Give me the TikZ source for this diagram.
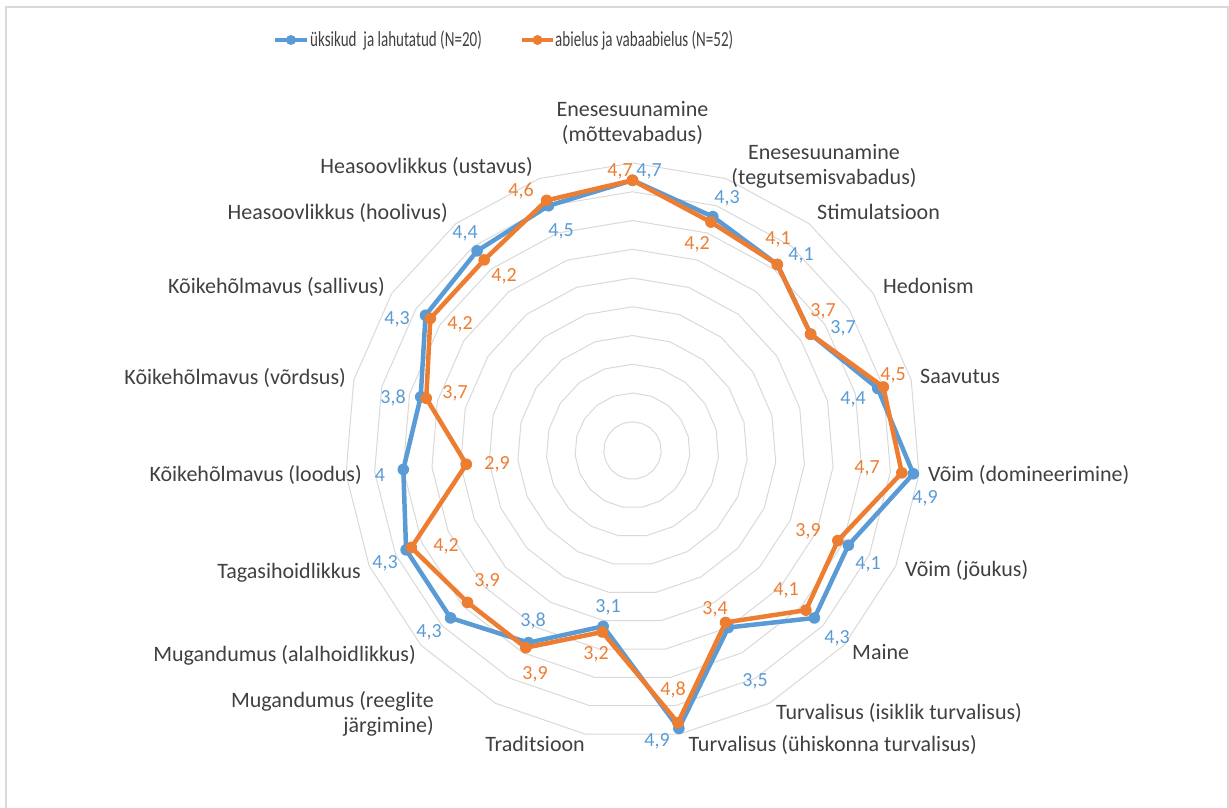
\documentclass[tikz,border=0pt]{standalone}
\usepackage{fontspec}
\usepackage{graphicx}
\setmainfont{Carlito}
\definecolor{sblue}{HTML}{5B9BD5}
\definecolor{sorange}{HTML}{ED7D31}
\definecolor{ringc}{HTML}{D9D9D9}
\definecolor{txt}{HTML}{404040}
\begin{document}
\begin{tikzpicture}[x=1pt,y=-1pt,
  ring/.style={draw=ringc, line width=1pt},
  frame/.style={draw=ringc, line width=2pt},
  bseries/.style={draw=sblue, line width=4.5pt, line join=round},
  oseries/.style={draw=sorange, line width=4.5pt, line join=round},
  bdot/.style={fill=sblue},
  odot/.style={fill=sorange},
  cat/.style={text=txt, font=\fontsize{22}{25}\selectfont, inner sep=0pt, text height=16pt, text depth=3pt},
  cattwo/.style={text=txt, font=\fontsize{22}{25}\selectfont, inner sep=0pt},
  blab/.style={text=sblue, font=\fontsize{20}{22}\selectfont, inner sep=0pt, text height=12.6pt, text depth=0pt},
  olab/.style={text=sorange, font=\fontsize{20}{22}\selectfont, inner sep=0pt, text height=12.6pt, text depth=0pt},
  leg/.style={text=txt, font=\fontsize{21.5}{24}\selectfont, inner sep=0pt, anchor=west}
]
\path[use as bounding box] (0,0) rectangle (1229,807);
\clip (0,0) rectangle (1229,807);
\def\cx{632.5}\def\cy{450.5}\def\sc{57.5}
% frame
\coordinate (f1) at (6,815); \coordinate (f2) at (6,7);
\coordinate (f3) at (1228,7); \coordinate (f4) at (1228,815);
\draw[frame] (f1) -- (f2) -- (f3) -- (f4);
% rings
\foreach \k in {1,...,10}{
  \draw[ring] ({\cx},{\cy-\k*28.75})
    \foreach \i in {1,...,18}{ -- ({\cx+\k*28.75*sin(\i*360/19)},{\cy-\k*28.75*cos(\i*360/19)}) } -- cycle;
}
% data points
\foreach \v [count=\i from 0] in {4.7,4.3,4.1,3.7,4.4,4.9,4.1,4.3,3.5,4.9,3.1,3.8,4.3,4.3,4,3.8,4.3,4.4,4.5}{
  \coordinate (b\i) at ({\cx+\sc*\v*sin(\i*360/19)},{\cy-\sc*\v*cos(\i*360/19)});
}
\foreach \v [count=\i from 0] in {4.7,4.2,4.1,3.7,4.5,4.7,3.9,4.1,3.4,4.8,3.2,3.9,3.9,4.2,2.9,3.7,4.2,4.2,4.6}{
  \coordinate (o\i) at ({\cx+\sc*\v*sin(\i*360/19)},{\cy-\sc*\v*cos(\i*360/19)});
}
\draw[bseries] (b0) \foreach \i in {1,...,18}{ -- (b\i) } -- cycle;
\foreach \i in {0,...,18}{ \fill[bdot] (b\i) circle[radius=5.8pt]; }
\draw[oseries] (o0) \foreach \i in {1,...,18}{ -- (o\i) } -- cycle;
\foreach \i in {0,...,18}{ \fill[odot] (o\i) circle[radius=5.8pt]; }
% blue labels
\node[blab] (bl0) at (649,170) {4,7};
\node[blab] (bl1) at (727,197) {4,3};
\node[blab] (bl2) at (801,254) {4,1};
\node[blab] (bl3) at (843,327) {3,7};
\node[blab] (bl4) at (853,398) {4,4};
\node[blab] (bl5) at (925,497) {4,9};
\node[blab] (bl6) at (868,563) {4,1};
\node[blab] (bl7) at (837,637) {4,3};
\node[blab] (bl8) at (755,680) {3,5};
\node[blab] (bl9) at (657,740) {4,9};
\node[blab] (bl10) at (608,606) {3,1};
\node[blab] (bl11) at (533,620) {3,8};
\node[blab] (bl12) at (429,631) {4,3};
\node[blab] (bl13) at (385,562) {4,3};
\node[blab] (bl14) at (380,475) {4};
\node[blab] (bl15) at (393,397) {3,8};
\node[blab] (bl16) at (397,318) {4,3};
\node[blab] (bl17) at (465,232) {4,4};
\node[blab] (bl18) at (561,230) {4,5};
% orange labels
\node[olab] (ol0) at (620,170) {4,7};
\node[olab] (ol1) at (697,243) {4,2};
\node[olab] (ol2) at (778,238) {4,1};
\node[olab] (ol3) at (823,310) {3,7};
\node[olab] (ol4) at (893,374) {4,5};
\node[olab] (ol5) at (867,467) {4,7};
\node[olab] (ol6) at (808,530) {3,9};
\node[olab] (ol7) at (786,589) {4,1};
\node[olab] (ol8) at (715,608) {3,4};
\node[olab] (ol9) at (673,689) {4,8};
\node[olab] (ol10) at (596,653) {3,2};
\node[olab] (ol11) at (535,673) {3,9};
\node[olab] (ol12) at (487,580) {3,9};
\node[olab] (ol13) at (446,545) {4,2};
\node[olab] (ol14) at (497,463) {2,9};
\node[olab] (ol15) at (455,392) {3,7};
\node[olab] (ol16) at (460,323) {4,2};
\node[olab] (ol17) at (504,275) {4,2};
\node[olab] (ol18) at (521,190) {4,6};
% category labels
\node[cattwo, align=center] (c0) at (632.5,122.5) {Enesesuunamine\\(mõttevabadus)};
\node[cattwo, align=center] (c1) at (824,166.5) {Enesesuunamine\\(tegutsemisvabadus)};
\node[cat, anchor=west] (c2) at (817,213) {Stimulatsioon};
\node[cat, anchor=west] (c3) at (883,287) {Hedonism};
\node[cat, anchor=west] (c4) at (920,377) {Saavutus};
\node[cat, anchor=west] (c5) at (928,475) {Võim (domineerimine)};
\node[cat, anchor=west] (c6) at (905,570) {Võim (jõukus)};
\node[cat, anchor=west] (c7) at (852,653) {Maine};
\node[cat, anchor=west] (c8) at (776,713) {Turvalisus (isiklik turvalisus)};
\node[cat, anchor=east] (c9) at (977,745) {Turvalisus (ühiskonna turvalisus)};
\node[cat, anchor=east] (c10) at (585,745) {Traditsioon};
\node[cattwo, align=right, anchor=east] (c11) at (434,713.5) {Mugandumus (reeglite\\järgimine)};
\node[cat, anchor=east] (c12) at (416,655) {Mugandumus (alalhoidlikkus)};
\node[cat, anchor=east] (c13) at (361,572) {Tagasihoidlikkus};
\node[cat, anchor=east] (c14) at (362,475) {Kõikehõlmavus (loodus)};
\node[cat, anchor=east] (c15) at (346,378) {Kõikehõlmavus (võrdsus)};
\node[cat, anchor=east] (c16) at (385,287) {Kõikehõlmavus (sallivus)};
\node[cat, anchor=east] (c17) at (448,213) {Heasoovlikkus (hoolivus)};
\node[cat, anchor=east] (c18) at (533,167) {Heasoovlikkus (ustavus)};
% legend
\coordinate (lb1) at (275,40); \coordinate (lb2) at (307,40); \coordinate (lbm) at (291,40);
\draw[bseries, line width=4pt] (lb1) -- (lb2);
\fill[bdot] (lbm) circle[radius=5pt];
\node[leg] (legb) at (310,40) {\scalebox{0.70}[1]{üksikud\ \ ja lahutatud (N=20)}};
\coordinate (lo1) at (522,40); \coordinate (lo2) at (553,40); \coordinate (lom) at (537.5,40);
\draw[oseries, line width=4pt] (lo1) -- (lo2);
\fill[odot] (lom) circle[radius=5pt];
\node[leg] (lego) at (555,40) {\scalebox{0.70}[1]{abielus ja vabaabielus (N=52)}};
\end{tikzpicture}
\end{document}
